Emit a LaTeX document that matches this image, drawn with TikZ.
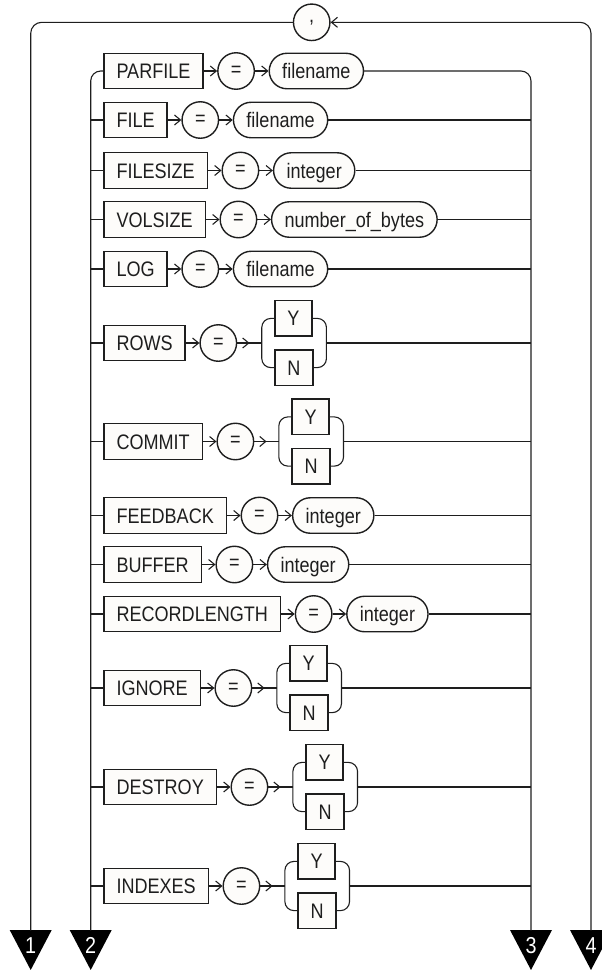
\documentclass[tikz,border=0pt]{standalone}
\usepackage{fontspec}
\setmainfont{Liberation Sans}
\newfontfamily\rrfont[FakeStretch=0.86]{Liberation Sans}
\usetikzlibrary{arrows.meta,positioning,calc}
\definecolor{lc}{RGB}{30,30,30}
\definecolor{bf}{RGB}{253,252,250}
\begin{document}
\begin{tikzpicture}[x=1pt,y=-1pt,
  rail/.style={draw=lc, line width=1.1pt},
  arr/.style={rail, -{Straight Barb[length=6pt,width=10pt]}},
  kw/.style={draw=lc, fill=bf, line width=1.4pt, minimum height=35.5pt,
    inner xsep=12.5pt, inner ysep=0pt, text height=15pt, text depth=0pt,
    font={\rrfont\fontsize{21}{23}\selectfont}, text=lc},
  eqc/.style={circle, draw=lc, fill=bf, line width=1.4pt, minimum size=36.5pt,
    inner sep=0pt, font={\rrfont\fontsize{21}{23}\selectfont}, text=lc},
  term/.style={kw, rounded corners=17.75pt, inner xsep=13pt},
  num/.style={text=white, inner sep=0pt, text height=16.4pt, text depth=0pt,
    font={\rrfont\fontsize{23}{24}\selectfont}}
]
\useasboundingbox (0,0) rectangle (602,970);
\clip (0,0) rectangle (602,970);
\coordinate (IL) at (90.7,0);
\coordinate (IR) at (531,0);
\coordinate (OL) at (30.7,0);
\coordinate (OR) at (591,0);

% end triangles
\foreach \j/\xx in {1/30.7, 2/90.7, 3/531, 4/591}{
  \coordinate (T\j) at (\xx,930.5);
  \fill[black] (\xx-21,930) -- (\xx+21,930) -- (\xx,970) -- cycle;
  \node[num] (d\j) at (\xx,945) {\j};
}

% separator loop
\node[eqc] (comma) at (311.7,22.3) {,};
\draw[rail, rounded corners=11pt] (T1) -- (comma.west -| OL) -- (comma.west);
\draw[arr, rounded corners=11pt] (T4) -- (comma.east -| OR) -- (comma.east);

% first row
\node[kw, anchor=west] (k1) at (103.3,71) {PARFILE};
\node[eqc, right=13.5pt of k1] (e1) {=};
\node[term, right=13.5pt of e1] (t1) {filename};
\draw[arr] (k1) -- (e1);
\draw[arr] (e1) -- (t1);
\draw[rail, rounded corners=10pt] (T2) -- (k1.west -| IL) -- (k1.west);
\draw[rail, rounded corners=10pt] (t1.east) -- (t1.east -| IR) -- (T3);

% rows with a single value
\foreach \i/\yy/\kk/\tx in {2/120/FILE/filename, 3/170.5/FILESIZE/integer,
    4/219.5/VOLSIZE/number\_of\_bytes, 5/269/LOG/filename,
    8/515.5/FEEDBACK/integer, 9/564.5/BUFFER/integer,
    10/614/RECORDLENGTH/integer}{
  \node[kw, anchor=west] (k\i) at (103.3,\yy) {\kk};
  \node[eqc, right=13.5pt of k\i] (e\i) {=};
  \node[term, right=13.5pt of e\i] (t\i) {\tx};
  \draw[arr] (k\i) -- (e\i);
  \draw[arr] (e\i) -- (t\i);
  \draw[rail] (k\i.west -| IL) -- (k\i.west);
  \draw[rail] (t\i.east) -- (t\i.east -| IR);
}

% rows with Y / N choice
\foreach \i/\yy/\kk in {6/343/ROWS, 7/441.5/COMMIT, 11/688/IGNORE,
    12/787/DESTROY, 13/886/INDEXES}{
  \node[kw, anchor=west] (k\i) at (103.3,\yy) {\kk};
  \node[eqc, right=13.5pt of k\i] (e\i) {=};
  \coordinate (bl\i) at ($(e\i.east)+(24.5pt,0)$);
  \node[kw, anchor=west] (y\i) at ($(bl\i)+(12.5pt,24.6pt)$) {Y};
  \node[kw, anchor=west] (n\i) at ($(bl\i)+(12.5pt,-24.6pt)$) {N};
  \coordinate (br\i) at ($(n\i.east |- bl\i)+(12.7pt,0)$);
  \draw[rail] (k\i.west -| IL) -- (k\i.west);
  \draw[arr] (k\i) -- (e\i);
  \draw[rail] (e\i.east) -- (bl\i);
  \draw[arr] (e\i.east) -- ($(e\i.east)!0.5!(bl\i)$);
  \draw[rail, rounded corners=9pt] (y\i.west) -| (bl\i) |- (n\i.west);
  \draw[rail, rounded corners=9pt] (y\i.east) -| (br\i) |- (n\i.east);
  \draw[rail] (br\i) -- (br\i -| IR);
}
\end{tikzpicture}
\end{document}
